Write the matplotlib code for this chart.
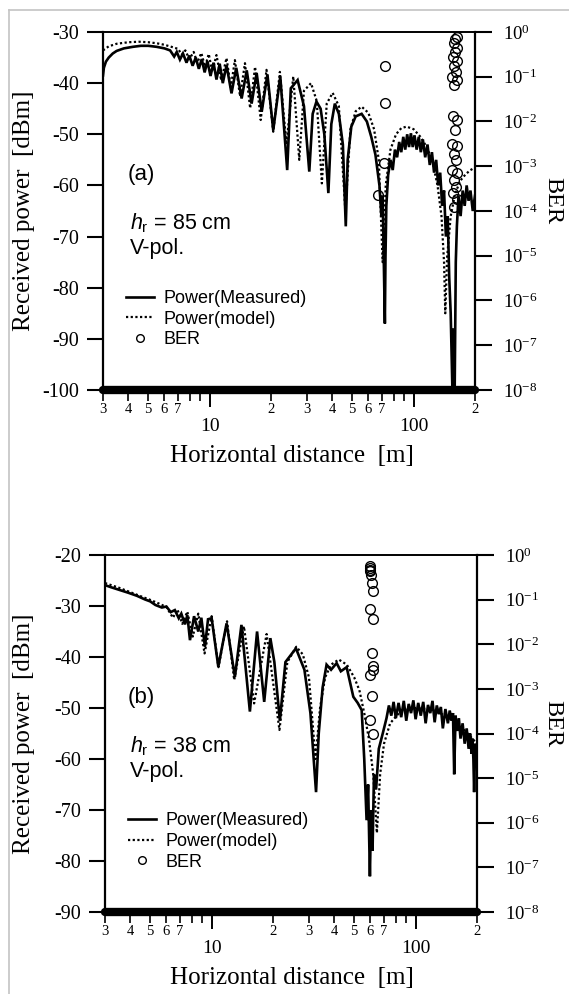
#!/usr/bin/env python
"""
Received power and BER vs horizontal distance, two receiver heights.
Solid: measured power, dotted: two-ray model, circles: BER (right axis).
"""
import matplotlib
matplotlib.use("Agg")
import matplotlib.pyplot as plt
from matplotlib.lines import Line2D
from matplotlib.ticker import NullLocator

# ---- panel (a): h_r = 85 cm ----
meas_a_d = [3.0, 3.03, 3.1, 3.2, 3.35, 3.5, 3.8, 4.2, 4.6, 5.0,
            5.5, 6.0, 6.4, 6.7, 6.9, 7.15, 7.4, 7.7, 7.95, 8.25,
            8.55, 8.85, 9.15, 9.45, 9.75, 10.1, 10.45, 10.8, 11.2, 11.6,
            12.1, 12.8, 13.5, 14.35, 15.2, 16.06, 17.0, 18.0, 19.2, 20.5,
            22.2, 24.0, 25.0, 27.0, 29.0, 30.8, 32.0, 33.4, 35.0, 36.5,
            38.2, 39.5, 41.1, 43.0, 45.0, 46.5, 47.5, 49.5, 52.0, 55.6,
            59.0, 62.0, 65.0, 68.0, 69.5, 70.5, 71.3, 72.3, 72.8, 73.5,
            75, 77, 79, 81, 83, 85, 87, 89, 91, 93,
            95, 97, 99, 101, 103.5, 106, 108.5, 111, 114, 117,
            120, 123, 126, 129, 132, 135, 138, 141, 144, 147,
            149.5, 152, 155, 157, 159, 161, 163, 166, 170, 174,
            178, 182, 186, 190, 195, 200]
meas_a_p = [-38.5, -37.0, -35.8, -35.0, -34.2, -33.7, -33.2, -32.9, -32.7, -32.7,
            -32.9, -33.2, -33.6, -34.8, -33.9, -35.4, -34.2, -36.0, -34.6, -36.6,
            -35.0, -37.2, -35.3, -37.9, -35.7, -38.6, -36.0, -39.3, -36.2, -40.0,
            -36.5, -42.0, -37.0, -43.0, -37.5, -44.0, -38.0, -45.6, -38.3, -49.2,
            -38.7, -57.0, -41.0, -39.4, -44.5, -57.3, -46.0, -43.6, -45.0, -50.0,
            -61.5, -48.0, -44.0, -46.0, -52.0, -68.0, -55.0, -48.5, -46.5, -46.0,
            -47.5, -50.5, -54.0, -60.0, -66.0, -62.0, -73.0, -87.0, -74.0, -64.0,
            -58.0, -55.0, -57.0, -53.0, -54.5, -51.5, -53.5, -50.5, -53.0, -50.0,
            -52.5, -49.8, -52.5, -50.2, -53.0, -50.5, -53.5, -51.0, -54.5, -52.0,
            -56.0, -53.5, -57.5, -55.0, -60.0, -57.5, -64.0, -61.0, -70.0, -66.0,
            -78.0, -85.0, -100.0, -88.0, -100.0, -75.0, -68.0, -62.0, -66.0, -61.0,
            -64.0, -60.0, -63.0, -61.0, -65.0, -62.0]

model_a_d = [3.0, 3.2, 3.5, 4.0, 4.5, 5.0, 5.5, 6.0, 6.5, 7.0,
             7.3, 7.6, 7.95, 8.35, 8.7, 9.1, 9.5, 9.9, 10.3, 10.8,
             11.4, 12.1, 12.7, 13.3, 14.1, 14.9, 15.8, 16.7, 17.8, 19.0,
             20.5, 22.1, 23.8, 25.7, 27.5, 29.0, 31.4, 33.5, 35.5, 37.5,
             40.1, 43.0, 46.3, 49.0, 52.0, 55.6, 60.0, 64.0, 67.5, 70.5,
             73.0, 77.0, 82.0, 87.0, 92.4, 100.0, 108.0, 116.0, 124.0, 131.0,
             137.0, 141.0, 143.0, 146.0, 152.0, 160.0, 170.0, 180.0, 190.0, 200.0]
model_a_p = [-33.6, -32.8, -32.3, -32.0, -31.9, -32.0, -32.2, -32.5, -32.9, -33.3,
             -34.4, -33.6, -35.3, -33.9, -36.0, -34.1, -36.8, -34.3, -37.8, -34.5,
             -39.5, -35.1, -40.8, -35.5, -42.6, -36.1, -44.9, -36.8, -47.2, -37.4,
             -49.5, -37.8, -52.0, -38.7, -55.0, -41.5, -40.0, -43.5, -59.6, -44.0,
             -41.9, -44.5, -65.0, -49.0, -45.5, -44.6, -45.8, -49.0, -55.0, -75.0,
             -60.0, -53.0, -50.0, -48.8, -48.5, -49.0, -50.5, -52.5, -55.5, -60.0,
             -66.0, -75.0, -85.0, -74.0, -66.0, -61.5, -59.0, -57.8, -57.0, -56.5]

ber_a_d = [72.3, 72.3, 71.5, 67.2,
           163, 160, 157, 163, 160, 156, 163, 158, 161, 155, 163, 158,
           156, 163, 160, 155, 163, 158, 161, 155, 163, 158, 161, 156, 163, 158]
ber_a_v = [0.17, 0.026, 0.0012, 0.00023,
           0.78, 0.68, 0.56, 0.45, 0.36, 0.28, 0.22, 0.17, 0.13, 0.10, 0.085, 0.066,
           0.013, 0.011, 0.0065, 0.0032, 0.0028, 0.0019, 0.0014, 0.00083, 0.0007,
           0.00049, 0.00035, 0.00025, 0.00019, 0.00012]

# ---- panel (b): h_r = 38 cm ----
meas_b_d = [3.0, 3.2, 3.5, 3.9, 4.3, 4.7, 5.0, 5.3, 5.7, 6.0,
            6.3, 6.6, 6.9, 7.1, 7.4, 7.6, 7.83, 8.2, 8.6, 8.9,
            9.27, 9.6, 10.0, 10.78, 11.84, 13.0, 14.0, 15.4, 16.7, 18.1,
            19.4, 20.3, 21.6, 23.0, 25.9, 28.5, 30.5, 32.5, 33.5, 35.0,
            36.6, 38.5, 41.0, 43.0, 45.9, 49.5, 52.0, 54.4, 56.0, 57.5,
            58.5, 59.7, 60.5, 61.5, 62.5, 64.0, 66.0, 69.0,
            72, 74, 76, 78, 80, 82.5, 85, 87.5, 90, 92.5,
            95, 97.5, 100, 103, 106, 109, 112, 115, 118, 121,
            124, 127, 130, 133, 136, 140, 144, 147, 150, 152.5,
            154.6, 157, 160, 163, 166, 170, 174, 178, 182, 185,
            188, 190, 192, 193.6, 196, 198, 200]
meas_b_p = [-25.9, -26.3, -26.8, -27.4, -28.0, -28.7, -29.1, -29.8, -30.3, -30.1,
            -31.2, -30.8, -32.4, -31.5, -33.6, -31.8, -36.7, -32.0, -35.0, -32.3,
            -38.0, -32.6, -32.4, -41.9, -33.4, -43.9, -33.7, -50.7, -35.0, -48.8,
            -36.3, -41.0, -52.5, -41.0, -38.3, -42.5, -51.0, -66.5, -55.0, -46.0,
            -41.5, -42.5, -41.2, -42.8, -42.0, -47.8, -49.0, -50.4, -60.0, -72.0,
            -65.0, -83.0, -70.0, -78.0, -63.0, -66.0, -58.0, -55.0,
            -52.0, -49.5, -51.5, -48.8, -52.0, -49.0, -51.8, -48.6, -52.5, -49.2,
            -51.0, -48.5, -52.2, -49.0, -51.5, -48.8, -53.0, -49.4, -51.0, -48.6,
            -52.8, -49.5, -51.2, -49.8, -54.0, -50.2, -53.0, -50.5, -52.5, -51.0,
            -63.0, -51.5, -54.5, -52.0, -56.0, -53.0, -57.0, -54.0, -58.0, -55.0,
            -59.0, -56.0, -60.0, -66.5, -57.0, -61.0, -59.0]

model_b_d = [3.0, 3.5, 4.0, 4.5, 5.0, 5.5, 6.0, 6.46, 6.8, 7.18,
             7.6, 8.08, 8.6, 9.23, 10.0, 10.8, 11.9, 12.9, 14.4, 16.15,
             18.6, 21.5, 23.5, 26.0, 28.0, 30.0, 32.3, 34.0, 36.0, 38.5,
             42.0, 46.0, 50.0, 53.0, 56.0, 59.0, 62.0, 64.6, 67.0, 70.0,
             75.0, 85.0, 100.0, 120.0, 140.0, 160.0, 180.0, 200.0]
model_b_p = [-25.5, -26.4, -27.3, -28.1, -28.8, -29.5, -30.2, -32.3, -30.7, -33.5,
             -31.1, -36.0, -31.5, -39.3, -32.0, -42.0, -33.0, -44.5, -34.0, -49.1,
             -35.5, -54.3, -41.0, -38.0, -39.5, -44.0, -60.0, -50.0, -44.0, -41.5,
             -40.5, -41.5, -44.0, -46.5, -51.0, -56.0, -63.0, -74.5, -63.0, -57.0,
             -53.0, -50.5, -50.0, -50.3, -51.5, -53.0, -55.0, -57.0]

ber_b_d = [59.7, 59.7, 59.7, 60.0, 60.3, 61.0, 61.5, 59.7,
           62.0, 61.0, 62.0, 61.5, 59.7, 61.0, 59.7, 62.0]
ber_b_v = [0.56, 0.50, 0.46, 0.43, 0.35, 0.23, 0.16, 0.063,
           0.036, 0.0065, 0.0032, 0.0026, 0.0020, 0.00069, 0.0002, 0.0001]

# error-free frames sit on the BER floor along the whole run
ber_floor_d = [3.0, 200.0]
ber_floor_v = [1e-8, 1e-8]

x_major = [10, 100]
x_major_labels = ["10", "100"]
x_minor = [3, 4, 5, 6, 7, 8, 9, 20, 30, 40, 50, 60, 70, 80, 90, 200]
x_minor_labels = ["3", "4", "5", "6", "7", "", "", "2", "3", "4", "5", "6", "7", "", "", "2"]
ber_ticks = [1e-8, 1e-7, 1e-6, 1e-5, 1e-4, 1e-3, 1e-2, 1e-1, 1e0]
ber_labels = [r"$\mathregular{10^{%d}}$" % e for e in range(-8, 1)]

W, H = 569, 994
SERIF = "Liberation Serif"
SANS = "Liberation Sans"

plt.rcParams["font.family"] = [SERIF, "DejaVu Serif"]
plt.rcParams["axes.unicode_minus"] = False
plt.rcParams["mathtext.fontset"] = "custom"
plt.rcParams["mathtext.rm"] = SANS
plt.rcParams["mathtext.it"] = SANS + ":italic"


def fx(x):
    return x / W


def fy(y):
    return 1 - y / H


def draw_panel(fig, rect, meas_d, meas_p, model_d, model_p, ber_d, ber_v,
               ylim, tag, height_txt, top):
    ax = fig.add_axes(rect)
    ax.plot(meas_d, meas_p, color="black", lw=1.9, solid_joinstyle="miter")
    ax.plot(model_d, model_p, color="black", lw=1.6, ls=(0, (1, 1.1)))

    ax.set_xscale("log")
    ax.set_xlim(3, 200)
    ax.set_ylim(*ylim)
    yt = list(range(ylim[0], ylim[1] + 1, 10))
    ax.set_yticks(yt, labels=[str(v) for v in yt])
    ax.set_xticks(x_major, labels=x_major_labels)
    ax.set_xticks(x_minor, labels=x_minor_labels, minor=True)
    ax.tick_params(axis="x", which="major", direction="out", length=12, width=1.4,
                   pad=8, labelsize=14)
    ax.tick_params(axis="x", which="minor", direction="out", length=8, width=1.2,
                   pad=1.5, labelsize=10.5)
    ax.tick_params(axis="y", direction="out", length=11.5, width=1.5, pad=6,
                   labelsize=14.5)
    ax.spines["right"].set_visible(False)
    ax.spines["left"].set_linewidth(1.6)
    ax.spines["top"].set_linewidth(1.4)
    ax.spines["bottom"].set_linewidth(1.4)

    ax2 = ax.twinx()
    ax2.set_yscale("log")
    ax2.set_ylim(1e-8, 1)
    ax2.set_yticks(ber_ticks, labels=ber_labels)
    ax2.yaxis.set_minor_locator(NullLocator())
    ax2.tick_params(axis="y", direction="out", length=12, width=1.5, pad=8,
                    labelsize=13.5)
    for side in ("left", "top", "bottom"):
        ax2.spines[side].set_visible(False)
    ax2.spines["right"].set_linewidth(1.6)

    ax2.plot(ber_floor_d, ber_floor_v, color="black", lw=6,
             solid_capstyle="round", clip_on=False)
    ax2.plot(ber_d, ber_v, ls="none", marker="o", ms=7, mfc="none",
             mec="black", mew=1.0)

    # legend (handles only, placed inside the plot area)
    handles = [
        Line2D([], [], color="black", lw=1.9),
        Line2D([], [], color="black", lw=1.6, ls=(0, (1, 1.1))),
        Line2D([], [], ls="none", marker="o", ms=5.5, mfc="none", mec="black", mew=1.0),
    ]
    ax2.legend(handles, ["Power(Measured)", "Power(model)", "BER"],
               loc="upper left", bbox_to_anchor=(0.062, 0.279),
               frameon=False, borderpad=0, borderaxespad=0,
               handlelength=1.55, handletextpad=0.5, labelspacing=0.2,
               prop={"family": SANS, "size": 13})

    # panel annotations, positioned in figure pixels relative to the top of the axes
    fig.text(fx(128), fy(top + 148), tag, family=SANS, fontsize=16, va="baseline")
    fig.text(fx(130), fy(top + 197), height_txt, family=SANS, fontsize=15.5,
             va="baseline")
    fig.text(fx(130), fy(top + 222), "V-pol.", family=SANS, fontsize=15.5,
             va="baseline")

    # axis titles
    bottom = top + rect[3] * H
    fig.text(fx(24), fy((top + bottom) / 2), "Received power  [dBm]", rotation=90,
             ha="center", va="center", fontsize=18)
    fig.text(fx(553), fy((top + bottom) / 2 - 10), "BER", rotation=270,
             ha="center", va="center", fontsize=17.5)
    fig.text(fx(292), fy(bottom + 66), "Horizontal distance  [m]",
             ha="center", va="center", fontsize=18)
    return ax, ax2


def main():
    fig = plt.figure(figsize=(W / 100, H / 100), dpi=100)
    fig.patch.set_facecolor("white")

    rect_a = [fx(103), fy(390), 372 / W, 358 / H]
    rect_b = [fx(105), fy(912), 372 / W, 357 / H]

    draw_panel(fig, rect_a, meas_a_d, meas_a_p, model_a_d, model_a_p,
               ber_a_d, ber_a_v, (-100, -30), "(a)", r"$h_\mathrm{r}$ = 85 cm", 32)
    draw_panel(fig, rect_b, meas_b_d, meas_b_p, model_b_d, model_b_p,
               ber_b_d, ber_b_v, (-90, -20), "(b)", r"$h_\mathrm{r}$ = 38 cm", 555)

    # grey edge of the scanned page
    fig.add_artist(Line2D([fx(9), fx(9)], [0, fy(10)], color="#c4c4c4", lw=1.2))
    fig.add_artist(Line2D([fx(9), 1], [fy(10), fy(10)], color="#c4c4c4", lw=1.2))

    fig.savefig("out.png", dpi=100)
    plt.close(fig)


if __name__ == "__main__":
    main()
